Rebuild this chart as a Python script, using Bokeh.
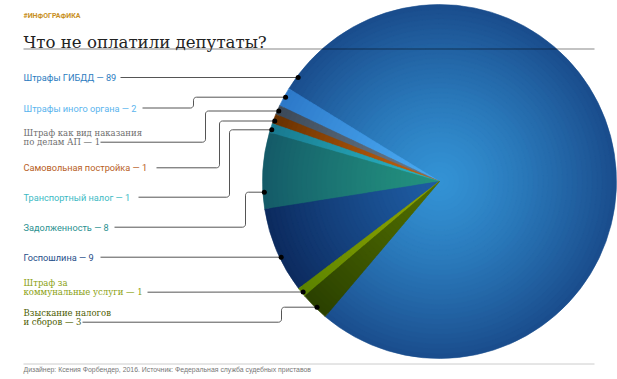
import numpy as np
from bokeh.plotting import figure
from bokeh.models import Range1d, Label, ColumnDataSource
from bokeh.core.properties import value
from bokeh.embed import file_html
from bokeh.resources import INLINE

# ---------------- data ----------------
categories = ["Штрафы ГИБДД", "Штрафы иного органа", "Штраф как вид наказания по делам АП",
              "Самовольная постройка", "Транспортный налог", "Задолженность", "Госпошлина",
              "Штраф за коммунальные услуги", "Взыскание налогов и сборов"]
values = [89, 2, 1, 1, 1, 8, 9, 1, 3]
label_lines = [["Штрафы ГИБДД"], ["Штрафы иного органа"], ["Штраф как вид наказания", "по делам АП"],
               ["Самовольная постройка"], ["Транспортный налог"], ["Задолженность"], ["Госпошлина"],
               ["Штраф за", "коммунальные услуги"], ["Взыскание налогов", "и сборов"]]
serif_label = [False, False, True, False, False, False, False, True, True]
inner_colors = ["#3392d4", "#4aaaf2", "#6a7a8a", "#c4620e", "#2ab4c4", "#23927f", "#1e5ca2", "#8ea400", "#506c00"]
outer_colors = ["#1a4c8c", "#2c78c8", "#3a4858", "#663000", "#18788e", "#145a68", "#0c2a5e", "#5a8200", "#2a4000"]
label_colors = ["#2b7cc0", "#5ab4ee", "#6e6e6e", "#b8601e", "#3cbac4", "#2a9090", "#1e4d88", "#8aa010", "#4c5c00"]
kicker = "#ИНФОГРАФИКА"
title = "Что не оплатили депутаты?"
source_note = "Дизайнер: Ксения Форбендер, 2016. Источник: Федеральная служба судебных приставов"

# ---------------- layout (reference pixel coordinates, y downwards) ----------------
W, H = 617, 379
CX, CY, R = 439, 181, 177
START_DEG = 229.75
label_x = 23
label_y = [77, 107.5, 141.7, 167.3, 196.7, 226.7, 256.7, 291.7, 321.7]
line_x0 = [120, 142, 100, 156, 138, 114, 100, 147, 82]
elbow_x = [None, 193, 205, 219, 229, 245, None, None, 281]
dot_y = [77, 96.7, 110.5, 120.5, 129.3, 191.7, 256.7, 291.5, 306.7]
LINE_GAP = 9.4


def Y(y):
    return H - y


p = figure(width=W, height=H, output_backend="svg", toolbar_location=None,
           x_range=Range1d(0, W), y_range=Range1d(0, H), min_border=0)
p.axis.visible = False
p.xgrid.visible = False
p.ygrid.visible = False
p.outline_line_color = None
p.background_fill_color = "white"
p.border_fill_color = "white"


def hex2rgb(h):
    h = h.lstrip("#")
    return np.array([int(h[i:i + 2], 16) for i in (0, 2, 4)], dtype=float)


def rgb2hex(c):
    c = np.clip(np.round(c), 0, 255).astype(int)
    return "#%02x%02x%02x" % tuple(c)


# slice angles from values
vals = np.array(values, dtype=float)
fr = vals / vals.sum()
ang = np.deg2rad(START_DEG) + 2 * np.pi * np.concatenate([[0], np.cumsum(fr)])
starts, ends = ang[:-1], ang[1:]

# radial gradient: stacked wedges, outermost first
N = 36
wx, wy, wr, ws, we, wc = [], [], [], [], [], []
for k in range(N):
    r = R * (1 - k / N)
    t = (r - R / (2 * N)) / R
    for i in range(len(values)):
        c = hex2rgb(inner_colors[i]) + (hex2rgb(outer_colors[i]) - hex2rgb(inner_colors[i])) * t ** 1.3
        wx.append(CX); wy.append(Y(CY)); wr.append(r)
        ws.append(starts[i]); we.append(ends[i]); wc.append(rgb2hex(c))
src = ColumnDataSource(dict(x=wx, y=wy, r=wr, s=ws, e=we, c=wc))
p.wedge(x="x", y="y", radius="r", start_angle="s", end_angle="e", direction="anticlock",
        fill_color="c", line_color="c", line_width=0.6, source=src)

# leader lines and dots
RC = 3.0
for i in range(len(values)):
    ly, dy = label_y[i], dot_y[i]
    dx = CX - np.sqrt((R - 1.5) ** 2 - (dy - CY) ** 2)
    xs, ys = [line_x0[i]], [ly]
    if elbow_x[i] is not None:
        ex = elbow_x[i]
        th = np.linspace(0, np.pi / 2, 6)
        xs += list(ex - RC + RC * np.sin(th)); ys += list(ly - RC + RC * np.cos(th))
        xs += list(ex + RC - RC * np.cos(th)); ys += list(dy + RC - RC * np.sin(th))
    xs.append(dx); ys.append(dy)
    p.line(xs, [Y(v) for v in ys], line_color="#555555", line_width=1)
    p.scatter([dx], [Y(dy)], size=5, marker="circle", fill_color="black", line_color=None)

# labels
for is_serif, font, size in [(False, "Roboto", "9.2px"), (True, "DejaVu Serif", "8.5px")]:
    tx, ty, tt, tc = [], [], [], []
    for i in range(len(values)):
        if serif_label[i] != is_serif:
            continue
        lines = list(label_lines[i])
        lines[-1] = f"{lines[-1]} — {values[i]}"
        n = len(lines)
        for j, s in enumerate(lines):
            tx.append(label_x)
            ty.append(Y(label_y[i] - (n - 1 - j) * LINE_GAP))
            tt.append(s)
            tc.append(label_colors[i])
    p.text(x="x", y="y", text="t", text_color="c", text_font=value(font), text_font_size=value(size),
           text_baseline="middle", text_align="left",
           source=ColumnDataSource(dict(x=tx, y=ty, t=tt, c=tc)))

# title block and footer
p.line([23, 594], [Y(48.5), Y(48.5)], line_color="black", line_alpha=0.47, line_width=1)
p.line([23, 594], [Y(363.5), Y(363.5)], line_color="#cccccc", line_width=1)
p.add_layout(Label(x=23, y=Y(15.5), text=kicker, text_font="Roboto", text_font_style="bold",
                   text_font_size="7px", text_color="#c8901e", text_baseline="middle"))
p.add_layout(Label(x=23, y=Y(41.7), text=title, text_font="DejaVu Serif",
                   text_font_size="16.6px", text_color="#222222", text_baseline="alphabetic"))
p.add_layout(Label(x=23, y=Y(369), text=source_note, text_font="Liberation Sans",
                   text_font_size="6.9px", text_color="#777777", text_baseline="middle"))

open("out.html", "w").write(file_html(p, INLINE))
